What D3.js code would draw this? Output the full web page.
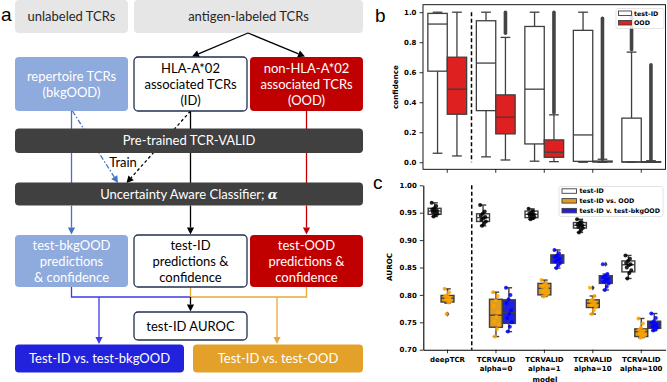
<!DOCTYPE html>
<html>
<head>
<meta charset="utf-8">
<script src="https://cdn.jsdelivr.net/npm/d3@7"></script>
<style>
  body { margin: 0; background: #fff; }
  svg { display: block; }
  .flow text { font-family: Lato, "Liberation Sans", sans-serif; font-size: 13px; }
  .plot text { font-family: "DejaVu Sans", sans-serif; font-weight: bold; }
  .lab { font-family: "Liberation Sans", Arial, sans-serif; font-size: 19px; }
</style>
</head>
<body>
<svg id="fig" width="667" height="382"></svg>
<script>
// ---------------- data ----------------
const models = ["deepTCR", "TCRVALID alpha=0", "TCRVALID alpha=1", "TCRVALID alpha=10", "TCRVALID alpha=100"];
const cTickLabels = [["deepTCR"], ["TCRVALID", "alpha=0"], ["TCRVALID", "alpha=1"], ["TCRVALID", "alpha=10"], ["TCRVALID", "alpha=100"]];
const bTicks = [0.0, 0.2, 0.4, 0.6, 0.8, 1.0];
const cTicks = [0.70, 0.75, 0.80, 0.85, 0.90, 0.95, 1.00];

// panel b, confidence: [whiskerLo, q1, median, q3, whiskerHi]
const bTestIdStats = [[0.06, 0.607, 0.921, 0.992, 1.0], [0.036, 0.344, 0.661, 0.943, 1.0], [0.007, 0.122, 0.487, 0.905, 1.0], [0.0, 0.006, 0.182, 0.879, 1.0], [0.0, 0.002, 0.002, 0.294, 0.734]];
const bOodStats = [[0.042, 0.32, 0.487, 0.70, 1.0], [0.015, 0.189, 0.30, 0.449, 0.832], [0.004, 0.033, 0.067, 0.149, 0.316], [0.0, 0.002, 0.004, 0.008, 0.02], [0.0, 0.0, 0.002, 0.004, 0.01]];
// dense flier columns [from, to]
const bTestIdOutliers = [null, null, null, null, [0.75, 0.995]];
const bOodOutliers = [null, [0.86, 1.0], [0.33, 1.0], [0.02, 0.96], [0.015, 0.65]];

// panel c, AUROC box stats [whiskerLo, q1, median, q3, whiskerHi]
const cTestIdStats = [[0.943, 0.947, 0.953, 0.958, 0.968], [0.926, 0.934, 0.941, 0.948, 0.964], [0.938, 0.941, 0.947, 0.953, 0.957], [0.914, 0.922, 0.927, 0.932, 0.938], [0.830, 0.842, 0.855, 0.862, 0.872]];
const cVsOodStats = [[0.785, 0.787, 0.794, 0.799, 0.811], [0.724, 0.741, 0.763, 0.792, 0.805], [0.797, 0.800, 0.812, 0.821, 0.827], [0.765, 0.777, 0.785, 0.791, 0.798], [0.722, 0.724, 0.733, 0.738, 0.757]];
const cVsBkgStats = [null, [0.733, 0.748, 0.768, 0.791, 0.813], [0.849, 0.858, 0.866, 0.873, 0.882], [0.809, 0.821, 0.828, 0.835, 0.838], [0.735, 0.739, 0.745, 0.752, 0.766]];
const cVsOodFliers = [[0.765], [], [], [0.813], []];
const cVsBkgFliers = [[], [], [], [0.856], []];

// panel c, per-fold AUROC values
const cTestIdPoints = [
  [0.968, 0.962, 0.958, 0.956, 0.954, 0.952, 0.951, 0.948, 0.946, 0.943],
  [0.964, 0.952, 0.948, 0.945, 0.942, 0.940, 0.937, 0.934, 0.930, 0.926],
  [0.957, 0.953, 0.950, 0.948, 0.947, 0.946, 0.944, 0.942, 0.940, 0.938],
  [0.938, 0.933, 0.931, 0.929, 0.927, 0.926, 0.924, 0.922, 0.918, 0.914],
  [0.872, 0.866, 0.862, 0.858, 0.856, 0.854, 0.850, 0.845, 0.840, 0.830]
];
const cVsOodPoints = [
  [0.811, 0.805, 0.800, 0.798, 0.795, 0.793, 0.791, 0.789, 0.786, 0.765],
  [0.805, 0.798, 0.790, 0.780, 0.768, 0.760, 0.752, 0.745, 0.738, 0.724],
  [0.827, 0.822, 0.818, 0.815, 0.812, 0.810, 0.806, 0.803, 0.800, 0.797],
  [0.813, 0.798, 0.792, 0.789, 0.786, 0.784, 0.781, 0.778, 0.772, 0.765],
  [0.757, 0.748, 0.740, 0.736, 0.734, 0.732, 0.729, 0.726, 0.724, 0.722]
];
const cVsBkgPoints = [
  [],
  [0.813, 0.800, 0.792, 0.785, 0.772, 0.765, 0.758, 0.750, 0.742, 0.733],
  [0.882, 0.876, 0.872, 0.869, 0.866, 0.864, 0.861, 0.858, 0.854, 0.849],
  [0.856, 0.838, 0.835, 0.832, 0.829, 0.827, 0.824, 0.821, 0.815, 0.809],
  [0.766, 0.758, 0.752, 0.749, 0.746, 0.744, 0.742, 0.740, 0.737, 0.735]
];

// ---------------- figure ----------------
const svg = d3.select("#fig");
const edge = "#3f3f3f";

// ===== panel a: flow diagram =====
const fa = svg.append("g").attr("class", "flow");

function box(x, y, w, h, fill, stroke, lines, color) {
  fa.append("rect").attr("x", x).attr("y", y).attr("width", w).attr("height", h)
    .attr("rx", 4).attr("fill", fill)
    .attr("stroke", stroke || "none").attr("stroke-width", stroke ? 1.3 : 0);
  const t = fa.append("text").attr("text-anchor", "middle").attr("fill", color);
  lines.forEach((s, i) => {
    t.append("tspan").attr("x", x + w / 2)
      .attr("y", y + h / 2 + (i - (lines.length - 1) / 2) * 16)
      .attr("dy", "0.35em").text(s);
  });
  return t;
}

function line(pts, color, dash) {
  fa.append("path").attr("d", d3.line()(pts)).attr("fill", "none")
    .attr("stroke", color).attr("stroke-width", 1.3)
    .attr("stroke-dasharray", dash || null);
}

function arrow(x1, y1, x2, y2, color, dash) {
  const a = Math.atan2(y2 - y1, x2 - x1), L = 7, W = 3.6;
  const hx = x2 - L * Math.cos(a), hy = y2 - L * Math.sin(a);
  line([[x1, y1], [hx, hy]], color, dash);
  fa.append("path")
    .attr("d", `M${x2},${y2}L${hx + W * Math.sin(a)},${hy - W * Math.cos(a)}L${hx - W * Math.sin(a)},${hy + W * Math.cos(a)}Z`)
    .attr("fill", color);
}

const lightBlue = "#8faadc", darkRed = "#c00000", bar = "#404040", navy = "#203050";
const midBlue = "#4472c4", connBlue = "#3b3bea", connOrange = "#eba83a";
const colX = [15, 134, 250], colW = 113;
const cx0 = colX[0] + colW / 2, cx1 = colX[1] + colW / 2, cx2 = colX[2] + colW / 2;

// top boxes
box(15, 0, 113, 33, "#e7e6e6", null, ["unlabeled TCRs"], "#262626");
box(134, 0, 229, 33, "#e7e6e6", null, ["antigen-labeled TCRs"], "#262626");
arrow(248, 33, 192, 56.5, "#000");
arrow(248, 33, 305, 56.5, "#000");

// lines between row 2 and classifier (behind the dark bars)
line([[cx0, 111], [cx0, 183]], midBlue);
line([[cx1, 111], [cx1, 183]], "#000");
line([[cx2, 111], [cx2, 183]], darkRed);
arrow(cx0 + 1, 111, 118, 183, midBlue, "5,2,1.5,2");
arrow(cx1, 111, 126.5, 183, "#000", "3,2.5");

// row 2
box(colX[0], 57, colW, 54, lightBlue, null, ["repertoire TCRs", "(bkgOOD)"], "#fff");
box(colX[1], 57, colW, 54, "#fff", navy, ["HLA-A*02", "associated TCRs", "(ID)"], "#000");
box(colX[2], 57, colW, 54, darkRed, null, ["non-HLA-A*02", "associated TCRs", "(OOD)"], "#fff");

// dark bars
box(15, 128.5, 348, 24.5, bar, null, ["Pre-trained TCR-VALID"], "#fff");
fa.append("text").attr("x", 123).attr("y", 162).attr("dy", "0.35em")
  .attr("text-anchor", "middle").attr("fill", "#000").text("Train");
const cl = box(15, 182.5, 348, 23, bar, null, ["Uncertainty Aware Classifier; "], "#fff");
cl.select("tspan").append("tspan").attr("font-family", "'DejaVu Serif', serif")
  .attr("font-weight", "bold").attr("font-style", "italic").text("α");

// classifier -> row 4
arrow(cx0, 205.5, cx0, 234.5, midBlue);
arrow(cx1, 205.5, cx1, 234.5, "#000");
arrow(cx2, 205.5, cx2, 234.5, darkRed);

// connectors below row 4
line([[cx0, 287], [cx0, 297], [cx1, 297]], connBlue);
arrow(99, 297, 99, 344, connBlue);
line([[cx1, 287], [cx1, 297], [cx2, 297], [cx2, 287]], connOrange);
arrow(277, 297, 277, 344, connOrange);
arrow(cx1, 297, cx1, 311.5, "#000");

// row 4
box(colX[0], 235, colW, 52, lightBlue, null, ["test-bkgOOD", "predictions", "& confidence"], "#fff");
box(colX[1], 235, colW, 52, "#fff", navy, ["test-ID", "predictions &", "confidence"], "#000");
box(colX[2], 235, colW, 52, darkRed, null, ["test-OOD", "predictions &", "confidence"], "#fff");

box(colX[1], 312, colW, 28, "#fff", navy, ["test-ID AUROC"], "#000");
box(15, 344.5, 169, 28, "#2222dc", null, ["Test-ID vs. test-bkgOOD"], "#fff");
box(193, 344.5, 170, 28, "#e3a12a", null, ["Test-ID vs. test-OOD"], "#fff");

// panel letters
svg.append("text").attr("class", "lab").attr("x", 1).attr("y", 21).text("a");
svg.append("text").attr("class", "lab").attr("x", 375).attr("y", 21.5).text("b");
svg.append("text").attr("class", "lab").attr("x", 373).attr("y", 189).text("c");

// ===== shared helpers for b and c =====
function drawBox(g, cxp, w, s, y, fill, lw) {
  const [lo, q1, md, q3, hi] = s;
  const st = (sel) => sel.attr("stroke", edge).attr("stroke-width", lw);
  st(g.append("line").attr("x1", cxp).attr("x2", cxp).attr("y1", y(lo)).attr("y2", y(q1)));
  st(g.append("line").attr("x1", cxp).attr("x2", cxp).attr("y1", y(q3)).attr("y2", y(hi)));
  st(g.append("rect").attr("x", cxp - w / 2).attr("width", w)
    .attr("y", y(q3)).attr("height", Math.max(0.5, y(q1) - y(q3))).attr("fill", fill));
  st(g.append("line").attr("x1", cxp - w / 2).attr("x2", cxp + w / 2).attr("y1", y(md)).attr("y2", y(md)));
  [lo, hi].forEach(v => st(g.append("line").attr("x1", cxp - w / 4).attr("x2", cxp + w / 4).attr("y1", y(v)).attr("y2", y(v))));
}

function diamond(g, x, yv, r, fill) {
  g.append("path").attr("d", `M${x},${yv - r}L${x + r * 0.7},${yv}L${x},${yv + r}L${x - r * 0.7},${yv}Z`).attr("fill", fill);
}

function styleAxis(sel, fs) {
  sel.selectAll("text").attr("font-size", fs).attr("fill", "#000");
  sel.selectAll("line").attr("stroke", "#000").attr("stroke-width", 0.8);
}

// ===== panel b =====
const gb = svg.append("g").attr("class", "plot");
const bx = d3.scaleBand().domain(models).range([423, 665.5]);
const by = d3.scaleLinear().domain([-0.047, 1.05]).range([169.3, 4.7]);
const bw = bx.bandwidth() * 0.8 / 2;
const bCenter = (m) => bx(m) + bx.bandwidth() / 2;

gb.append("g").attr("transform", "translate(423,0)")
  .call(d3.axisLeft(by).tickValues(bTicks).tickFormat(d3.format(".1f")).tickSize(3.5).tickSizeOuter(0))
  .call(a => a.select(".domain").remove()).call(a => styleAxis(a, 7));
gb.append("g").attr("transform", "translate(0,169.3)")
  .call(d3.axisBottom(bx).tickFormat("").tickSize(3.5).tickSizeOuter(0))
  .call(a => a.select(".domain").remove()).call(a => styleAxis(a, 7));

models.forEach((m, i) => {
  const c = bCenter(m);
  drawBox(gb, c - bw / 2, bw, bTestIdStats[i], by, "#fff", 1.3);
  drawBox(gb, c + bw / 2, bw, bOodStats[i], by, "#df2020", 1.3);
  [[bTestIdOutliers[i], c - bw / 2], [bOodOutliers[i], c + bw / 2]].forEach(([o, xo]) => {
    if (!o) return;
    gb.append("line").attr("x1", xo).attr("x2", xo).attr("y1", by(o[0])).attr("y2", by(o[1]))
      .attr("stroke", "#444").attr("stroke-width", 3.6).attr("stroke-linecap", "round");
  });
});

gb.append("line").attr("x1", bx(models[1])).attr("x2", bx(models[1]))
  .attr("y1", by(1.0)).attr("y2", by(0.0))
  .attr("stroke", "#000").attr("stroke-width", 1.5).attr("stroke-dasharray", "4,2.5");

gb.append("rect").attr("x", 423).attr("y", 4.7).attr("width", 242.5).attr("height", 164.6)
  .attr("fill", "none").attr("stroke", "#000").attr("stroke-width", 0.9);

gb.append("text").attr("transform", "translate(398,87) rotate(-90)")
  .attr("text-anchor", "middle").attr("font-size", 7.2).text("confidence");

// legend b
const lb = gb.append("g");
lb.append("rect").attr("x", 616).attr("y", 8.5).attr("width", 48).attr("height", 20)
  .attr("rx", 2).attr("fill", "#fff").attr("fill-opacity", 0.85).attr("stroke", "#d0d0d0").attr("stroke-width", 0.6);
[["test-ID", "#fff"], ["OOD", "#df2020"]].forEach(([t, f], i) => {
  lb.append("rect").attr("x", 618.5).attr("y", 11 + i * 9.5).attr("width", 13).attr("height", 4.5)
    .attr("fill", f).attr("stroke", edge).attr("stroke-width", 0.9);
  lb.append("text").attr("x", 634).attr("y", 13.3 + i * 9.5).attr("dy", "0.35em")
    .attr("font-size", 6.3).text(t);
});

// ===== panel c =====
const gc = svg.append("g").attr("class", "plot");
const cxs = d3.scaleBand().domain(models).range([423.3, 665.5]);
const cy = d3.scaleLinear().domain([0.70, 1.00]).range([349.7, 185.3]);
const hw = cxs.bandwidth() * 0.8 / 3;
const cCenter = (m) => cxs(m) + cxs.bandwidth() / 2;

gc.append("g").attr("transform", "translate(423.3,0)")
  .call(d3.axisLeft(cy).tickValues(cTicks).tickFormat(d3.format(".2f")).tickSize(3.5).tickSizeOuter(0))
  .call(a => a.select(".domain").attr("stroke", "#000").attr("stroke-width", 1.1))
  .call(a => styleAxis(a, 7));
const xa = gc.append("g").attr("transform", "translate(0,349.7)")
  .call(d3.axisBottom(cxs).tickSize(3.5).tickSizeOuter(0))
  .call(a => a.select(".domain").attr("stroke", "#000").attr("stroke-width", 1.1))
  .call(a => styleAxis(a, 7));
xa.selectAll(".tick text").each(function (d, i) {
  const t = d3.select(this).text(null).attr("y", 7.8);
  cTickLabels[i].forEach((s, k) => t.append("tspan").attr("x", 0).attr("dy", k === 0 ? "0.71em" : "1.2em").text(s));
});
gc.append("text").attr("x", 545).attr("y", 381.5).attr("text-anchor", "middle")
  .attr("font-size", 7.2).text("model");
gc.append("text").attr("transform", "translate(392,267) rotate(-90)")
  .attr("text-anchor", "middle").attr("font-size", 7.2).text("AUROC");

const series = [
  { stats: cTestIdStats, pts: cTestIdPoints, fl: null, fill: "#fff", dot: "#000", off: -1 },
  { stats: cVsOodStats, pts: cVsOodPoints, fl: cVsOodFliers, fill: "#df9c20", dot: "#ffa500", off: 0 },
  { stats: cVsBkgStats, pts: cVsBkgPoints, fl: cVsBkgFliers, fill: "#2020df", dot: "#0000ff", off: 1 }
];
models.forEach((m, i) => {
  series.forEach(s => {
    if (!s.stats[i]) return;
    const xc = cCenter(m) + s.off * hw;
    drawBox(gc, xc, hw, s.stats[i], cy, s.fill, 1.4);
    if (s.fl) s.fl[i].forEach(v => diamond(gc, xc, cy(v), 2.6, edge));
    s.pts[i].forEach((v, k) => {
      const jit = (((k * 7) % 10) / 9 - 0.5) * hw * 0.45;
      gc.append("circle").attr("cx", xc + jit).attr("cy", cy(v)).attr("r", 2)
        .attr("fill", s.dot).attr("fill-opacity", 0.85);
    });
  });
});

gc.append("line").attr("x1", cxs(models[1])).attr("x2", cxs(models[1]))
  .attr("y1", cy(1.0)).attr("y2", cy(0.70))
  .attr("stroke", "#000").attr("stroke-width", 1.5).attr("stroke-dasharray", "4,2.5");

// legend c
const lc = gc.append("g");
lc.append("rect").attr("x", 559).attr("y", 186.5).attr("width", 104).attr("height", 30)
  .attr("rx", 2).attr("fill", "#fff").attr("fill-opacity", 0.85).attr("stroke", "#d0d0d0").attr("stroke-width", 0.6);
[["test-ID", "#fff"], ["test-ID vs. OOD", "#df9c20"], ["test-ID v. test-bkgOOD", "#2020df"]].forEach(([t, f], i) => {
  lc.append("rect").attr("x", 562).attr("y", 188.8 + i * 9.8).attr("width", 14.5).attr("height", 4.5)
    .attr("fill", f).attr("stroke", edge).attr("stroke-width", 0.9);
  lc.append("text").attr("x", 579.5).attr("y", 191 + i * 9.8).attr("dy", "0.35em")
    .attr("font-size", 6.3).text(t);
});
</script>
</body>
</html>
